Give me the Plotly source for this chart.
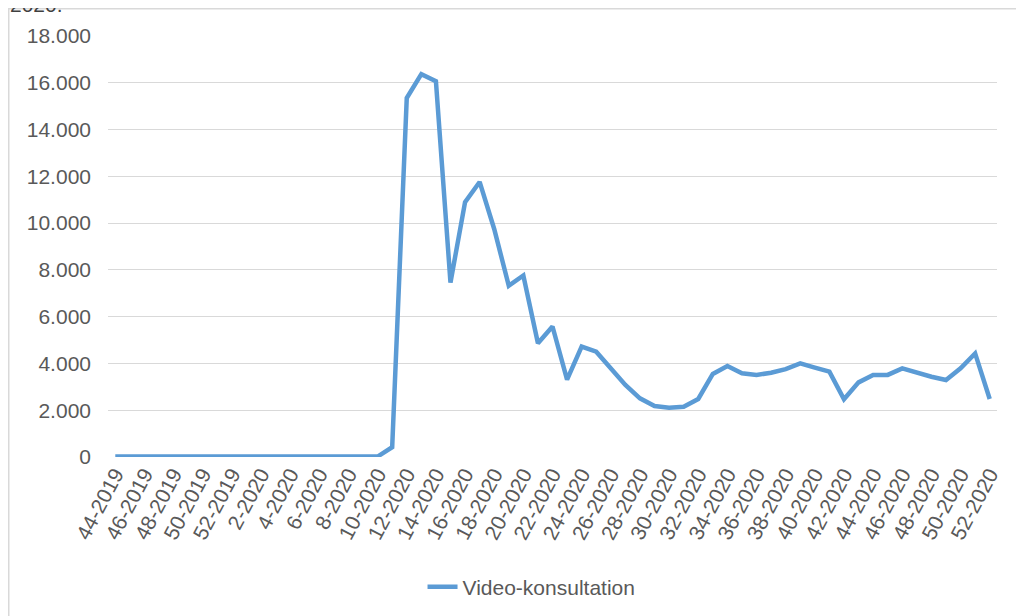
import plotly.graph_objects as go

weeks = [
    "44-2019", "45-2019", "46-2019", "47-2019", "48-2019", "49-2019", "50-2019", "51-2019", "52-2019",
    "1-2020", "2-2020", "3-2020", "4-2020", "5-2020", "6-2020", "7-2020", "8-2020", "9-2020",
    "10-2020", "11-2020", "12-2020", "13-2020", "14-2020", "15-2020", "16-2020", "17-2020",
    "18-2020", "19-2020", "20-2020", "21-2020", "22-2020", "23-2020", "24-2020", "25-2020",
    "26-2020", "27-2020", "28-2020", "29-2020", "30-2020", "31-2020", "32-2020", "33-2020",
    "34-2020", "35-2020", "36-2020", "37-2020", "38-2020", "39-2020", "40-2020", "41-2020",
    "42-2020", "43-2020", "44-2020", "45-2020", "46-2020", "47-2020", "48-2020", "49-2020",
    "50-2020", "51-2020", "52-2020",
]

video_konsultation = [
    20, 20, 20, 20, 20, 20, 20, 20, 25,
    25, 30, 30, 30, 25, 25, 25, 20, 20,
    20, 420, 15350, 16370, 16070, 7460, 10900, 11760,
    9750, 7320, 7760, 4860, 5580, 3310, 4720, 4500,
    3790, 3080, 2510, 2180, 2110, 2150, 2480, 3550,
    3890, 3580, 3510, 3600, 3760, 4000, 3820, 3650,
    2470, 3190, 3510, 3510, 3790, 3600, 3430, 3290,
    3790, 4430, 2480,
]

tick_labels = weeks[::2]
y_ticks = [0, 2000, 4000, 6000, 8000, 10000, 12000, 14000, 16000, 18000]

FONT = "Liberation Sans, Arial, sans-serif"
GREY = "#595959"

FIG_W, FIG_H = 1016, 608
L, R, T, B = 100, 27, 28, 159
W_PLOT = FIG_W - L - R
H_PLOT = FIG_H - T - B


def px_x(px):
    return (px - L) / W_PLOT


def px_y(py):
    return (FIG_H - B - py) / H_PLOT


fig = go.Figure()
fig.add_trace(go.Scatter(
    x=weeks, y=video_konsultation, mode="lines", name="Video-konsultation",
    line=dict(color="#5B9BD5", width=4.5),
))

fig.update_layout(
    width=FIG_W, height=FIG_H,
    margin=dict(l=L, r=R, t=T, b=B),
    paper_bgcolor="white", plot_bgcolor="white",
    separators=",.",
    font=dict(family=FONT, size=21, color=GREY),
    showlegend=True,
    legend=dict(
        orientation="h", xref="container", yref="container",
        x=0.408, y=0.0477, xanchor="left", yanchor="middle",
        font=dict(family=FONT, size=21, color=GREY),
        itemwidth=30,
    ),
    xaxis=dict(
        type="category",
        tickmode="array", tickvals=tick_labels, ticktext=tick_labels,
        tickangle=-62, showgrid=False, showline=False, zeroline=False,
        ticks="", tickfont=dict(family=FONT, size=21, color=GREY),
        range=[-0.5, len(weeks) - 0.5],
    ),
    yaxis=dict(
        range=[0, 18000], tickvals=y_ticks, tickformat=",d",
        showgrid=True, gridcolor="#D9D9D9", gridwidth=1.3,
        zeroline=False, showline=False, ticks="",
        ticklabelstandoff=16,
        tickfont=dict(family=FONT, size=21, color=GREY),
    ),
    shapes=[
        dict(type="rect", xref="paper", yref="paper",
             x0=px_x(0.75), x1=px_x(FIG_W + 20),
             y0=px_y(FIG_H + 20), y1=px_y(0.75),
             line=dict(color="#D9D9D9", width=1.5), fillcolor="rgba(0,0,0,0)",
             layer="below"),
    ],
    annotations=[
        dict(text="2020.", xref="paper", yref="paper",
             x=px_x(0), y=px_y(10),
             xanchor="left", yanchor="bottom", showarrow=False,
             font=dict(family=FONT, size=21, color="#404040")),
    ],
)

fig.write_html("out.html")
